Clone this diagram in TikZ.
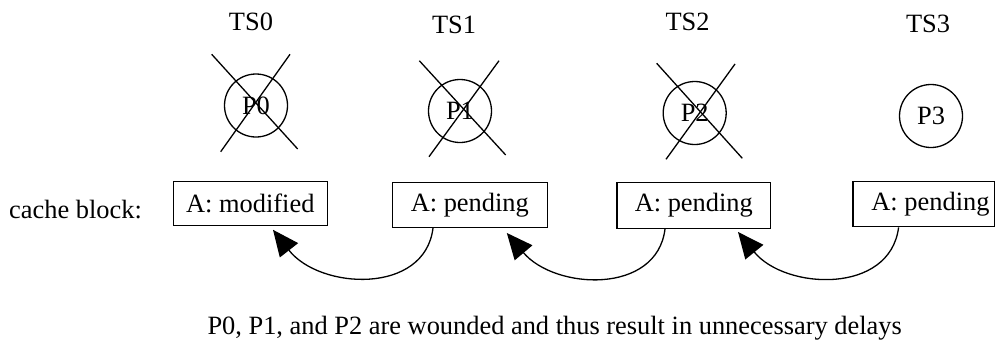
\documentclass[tikz,border=0pt]{standalone}
\usepackage{fontspec}
\setmainfont{Liberation Serif}
\usetikzlibrary{arrows.meta}
\begin{document}
\begin{tikzpicture}[x=1pt,y=-1pt,
  every node/.style={font=\fontsize{26.4}{30}\selectfont, inner sep=0pt},
  proc/.style={draw, circle, line width=1.3pt, minimum size=63pt},
  blk/.style={draw, rectangle, line width=1.3pt},
  crossline/.style={line width=1.3pt},
  conn/.style={line width=1.3pt, -{Triangle[length=26pt,width=23pt]}}]
\useasboundingbox (0,0) rectangle (995,341);
% time step labels
\node[anchor=base] (ts0) at (251,30) {TS0};
\node[anchor=base] (ts1) at (454,33) {TS1};
\node[anchor=base] (ts2) at (687.5,30) {TS2};
\node[anchor=base] (ts3) at (928,32) {TS3};
% processors
\node[proc] (p0) at (256,105.5) {P0};
\node[proc] (p1) at (460,111) {P1};
\node[proc] (p2) at (694.7,113) {P2};
\node[proc] (p3) at (931,116) {P3};
% crosses
\draw[crossline] ([shift={(-44.3,-51.2)}]p0.center) -- ([shift={(41.7,43.5)}]p0.center);
\draw[crossline] ([shift={(34,-51.2)}]p0.center) -- ([shift={(-35.3,46.2)}]p0.center);
\draw[crossline] ([shift={(-40.7,-50.3)}]p1.center) -- ([shift={(45.7,44)}]p1.center);
\draw[crossline] ([shift={(39,-50.3)}]p1.center) -- ([shift={(-31,45.7)}]p1.center);
\draw[crossline] ([shift={(-38,-49.7)}]p2.center) -- ([shift={(47.6,45.3)}]p2.center);
\draw[crossline] ([shift={(40.3,-49)}]p2.center) -- ([shift={(-28.7,46.3)}]p2.center);
% cache blocks
\node[anchor=base west] (cb) at (9,218) {cache block:};
\node[blk, minimum width=154pt, minimum height=43.5pt] (b0) at (250.3,203.4) {A: modified};
\node[blk, minimum width=155pt, minimum height=44.6pt] (b1) at (469.8,205) {A: pending};
\node[blk, minimum width=153.7pt, minimum height=45.6pt] (b2) at (693.8,205.5) {A: pending};
\node[blk, minimum width=141.7pt, minimum height=45pt, anchor=west] (b3) at (852.3,204.2) {A: pending\hspace*{-13.3pt}};
% connectors
\draw[conn] ([xshift=-36.8pt]b1.south) .. controls (425,295) and (320,290) .. ([shift={(22.7pt,-4pt)}]b0.south);
\draw[conn] ([xshift=-28.8pt]b2.south) .. controls (657,295) and (555,290) .. ([shift={(37pt,-5pt)}]b1.south);
\draw[conn] ([xshift=-25.2pt]b3.south) .. controls (890,295) and (785,290) .. ([shift={(44.2pt,-3pt)}]b2.south);
% caption
\node[anchor=base west] (cap) at (207.3,334.3) {P0, P1, and P2 are wounded and thus result in unnecessary delays};
\end{tikzpicture}
\end{document}
